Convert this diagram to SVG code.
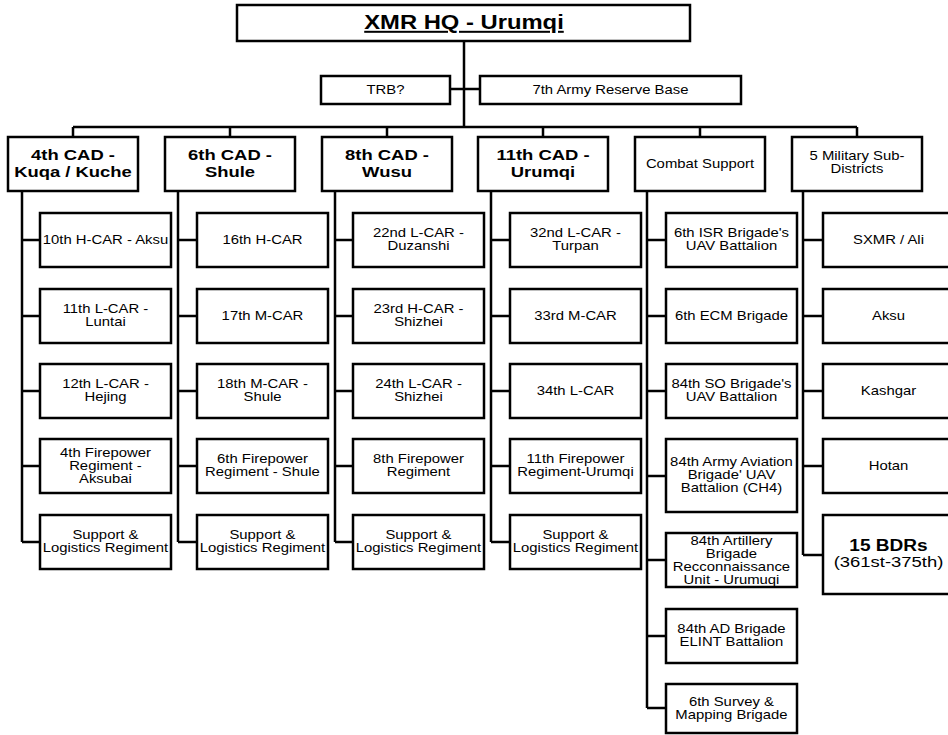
<svg xmlns="http://www.w3.org/2000/svg" width="948" height="735" viewBox="0 0 948 735">
<style>
.bx{fill:#fff;stroke:#000;stroke-width:2.5}
.ln{fill:none;stroke:#000;stroke-width:2.5}
text{font-family:"Liberation Sans",Arial,Helvetica,sans-serif;fill:#000;text-anchor:middle;transform-box:fill-box;transform-origin:center;transform:scaleX(1.19)}
.c{font-size:12.5px}
.h{font-size:15.5px;font-weight:bold}
.top{font-size:20px;font-weight:bold;text-decoration:underline}
.s{font-size:12.5px}
.bd{font-size:16px;font-weight:bold}
.bd2{font-size:15.5px}
</style>
<rect width="948" height="735" fill="#fff"/>
<g id="connectors">
<path class="ln" d="M464,41V127M450,89H480M73,127H857M73,127V137M230,127V137M387,127V137M543,127V137M700,127V137M857,127V137"/>
<path class="ln" d="M22,191V542M22,240H40M22,316H40M22,391H40M22,466H40M22,542H40"/>
<path class="ln" d="M178,191V542M178,240H197M178,316H197M178,391H197M178,466H197M178,542H197"/>
<path class="ln" d="M335,191V542M335,240H353M335,316H353M335,391H353M335,466H353M335,542H353"/>
<path class="ln" d="M491,191V542M491,240H510M491,316H510M491,391H510M491,466H510M491,542H510"/>
<path class="ln" d="M647,191V708M647,240H666M647,316H666M647,391H666M647,476H666M647,560H666M647,636H666M647,708H666"/>
<path class="ln" d="M803,191V555M803,240H823M803,316H823M803,391H823M803,466H823M803,555H823"/>
</g>
<g id="hq"><rect class="bx" x="237" y="5" width="453" height="36"/><text class="top" x="464" y="29">XMR HQ - Urumqi</text></g>
<g id="trb"><rect class="bx" x="321" y="76" width="129" height="28"/><text class="s" x="385.5" y="94.5">TRB?</text></g>
<g id="reserve"><rect class="bx" x="480" y="76" width="261" height="28"/><text class="s" x="610.5" y="94.5">7th Army Reserve Base</text></g>

<g id="cad4"><rect class="bx" x="8" y="137" width="130" height="54"/><text class="h" x="73" y="160.5"><tspan x="73">4th CAD -</tspan><tspan x="73" dy="16.5">Kuqa / Kuche</tspan></text></g>
<g id="cad6"><rect class="bx" x="165" y="137" width="130" height="54"/><text class="h" x="230" y="160.5"><tspan x="230">6th CAD -</tspan><tspan x="230" dy="16.5">Shule</tspan></text></g>
<g id="cad8"><rect class="bx" x="322" y="137" width="130" height="54"/><text class="h" x="387" y="160.5"><tspan x="387">8th CAD -</tspan><tspan x="387" dy="16.5">Wusu</tspan></text></g>
<g id="cad11"><rect class="bx" x="478" y="137" width="130" height="54"/><text class="h" x="543" y="160.5"><tspan x="543">11th CAD -</tspan><tspan x="543" dy="16.5">Urumqi</tspan></text></g>
<g id="combat"><rect class="bx" x="635" y="137" width="130" height="54"/><text class="c" x="700" y="168">Combat Support</text></g>
<g id="msd"><rect class="bx" x="792" y="137" width="130" height="54"/><text class="c" x="857" y="160.5"><tspan x="857">5 Military Sub-</tspan><tspan x="857" dy="13">Districts</tspan></text></g>

<g id="c1r1"><rect class="bx" x="40" y="213" width="131" height="54"/><text class="c" x="105.5" y="244.5">10th H-CAR - Aksu</text></g>
<g id="c1r2"><rect class="bx" x="40" y="289" width="131" height="54"/><text class="c" x="105.5" y="313.5"><tspan x="105.5">11th L-CAR -</tspan><tspan x="105.5" dy="13">Luntai</tspan></text></g>
<g id="c1r3"><rect class="bx" x="40" y="364" width="131" height="54"/><text class="c" x="105.5" y="388.5"><tspan x="105.5">12th L-CAR -</tspan><tspan x="105.5" dy="13">Hejing</tspan></text></g>
<g id="c1r4"><rect class="bx" x="40" y="439" width="131" height="54"/><text class="c" x="105.5" y="457.5"><tspan x="105.5">4th Firepower</tspan><tspan x="105.5" dy="13">Regiment -</tspan><tspan x="105.5" dy="13">Aksubai</tspan></text></g>
<g id="c1r5"><rect class="bx" x="40" y="515" width="131" height="54"/><text class="c" x="105.5" y="539.5"><tspan x="105.5">Support &amp;</tspan><tspan x="105.5" dy="13">Logistics Regiment</tspan></text></g>

<g id="c2r1"><rect class="bx" x="197" y="213" width="131" height="54"/><text class="c" x="262.5" y="244.5">16th H-CAR</text></g>
<g id="c2r2"><rect class="bx" x="197" y="289" width="131" height="54"/><text class="c" x="262.5" y="320.5">17th M-CAR</text></g>
<g id="c2r3"><rect class="bx" x="197" y="364" width="131" height="54"/><text class="c" x="262.5" y="388.5"><tspan x="262.5">18th M-CAR -</tspan><tspan x="262.5" dy="13">Shule</tspan></text></g>
<g id="c2r4"><rect class="bx" x="197" y="439" width="131" height="54"/><text class="c" x="262.5" y="463.5"><tspan x="262.5">6th Firepower</tspan><tspan x="262.5" dy="13">Regiment - Shule</tspan></text></g>
<g id="c2r5"><rect class="bx" x="197" y="515" width="131" height="54"/><text class="c" x="262.5" y="539.5"><tspan x="262.5">Support &amp;</tspan><tspan x="262.5" dy="13">Logistics Regiment</tspan></text></g>

<g id="c3r1"><rect class="bx" x="353" y="213" width="131" height="54"/><text class="c" x="418.5" y="237.5"><tspan x="418.5">22nd L-CAR -</tspan><tspan x="418.5" dy="13">Duzanshi</tspan></text></g>
<g id="c3r2"><rect class="bx" x="353" y="289" width="131" height="54"/><text class="c" x="418.5" y="313.5"><tspan x="418.5">23rd H-CAR -</tspan><tspan x="418.5" dy="13">Shizhei</tspan></text></g>
<g id="c3r3"><rect class="bx" x="353" y="364" width="131" height="54"/><text class="c" x="418.5" y="388.5"><tspan x="418.5">24th L-CAR -</tspan><tspan x="418.5" dy="13">Shizhei</tspan></text></g>
<g id="c3r4"><rect class="bx" x="353" y="439" width="131" height="54"/><text class="c" x="418.5" y="463.5"><tspan x="418.5">8th Firepower</tspan><tspan x="418.5" dy="13">Regiment</tspan></text></g>
<g id="c3r5"><rect class="bx" x="353" y="515" width="131" height="54"/><text class="c" x="418.5" y="539.5"><tspan x="418.5">Support &amp;</tspan><tspan x="418.5" dy="13">Logistics Regiment</tspan></text></g>

<g id="c4r1"><rect class="bx" x="510" y="213" width="131" height="54"/><text class="c" x="575.5" y="237.5"><tspan x="575.5">32nd L-CAR -</tspan><tspan x="575.5" dy="13">Turpan</tspan></text></g>
<g id="c4r2"><rect class="bx" x="510" y="289" width="131" height="54"/><text class="c" x="575.5" y="320.5">33rd M-CAR</text></g>
<g id="c4r3"><rect class="bx" x="510" y="364" width="131" height="54"/><text class="c" x="575.5" y="395.5">34th L-CAR</text></g>
<g id="c4r4"><rect class="bx" x="510" y="439" width="131" height="54"/><text class="c" x="575.5" y="463.5"><tspan x="575.5">11th Firepower</tspan><tspan x="575.5" dy="13">Regiment-Urumqi</tspan></text></g>
<g id="c4r5"><rect class="bx" x="510" y="515" width="131" height="54"/><text class="c" x="575.5" y="539.5"><tspan x="575.5">Support &amp;</tspan><tspan x="575.5" dy="13">Logistics Regiment</tspan></text></g>

<g id="c5r1"><rect class="bx" x="666" y="213" width="131" height="54"/><text class="c" x="731.5" y="237.5"><tspan x="731.5">6th ISR Brigade's</tspan><tspan x="731.5" dy="13">UAV Battalion</tspan></text></g>
<g id="c5r2"><rect class="bx" x="666" y="289" width="131" height="54"/><text class="c" x="731.5" y="320.5">6th ECM Brigade</text></g>
<g id="c5r3"><rect class="bx" x="666" y="364" width="131" height="54"/><text class="c" x="731.5" y="388.5"><tspan x="731.5">84th SO Brigade's</tspan><tspan x="731.5" dy="13">UAV Battalion</tspan></text></g>
<g id="c5r4"><rect class="bx" x="666" y="439" width="131" height="73"/><text class="c" x="731.5" y="466.5"><tspan x="731.5">84th Army Aviation</tspan><tspan x="731.5" dy="13">Brigade' UAV</tspan><tspan x="731.5" dy="13">Battalion (CH4)</tspan></text></g>
<g id="c5r5"><rect class="bx" x="666" y="533" width="131" height="54"/><text class="c" x="731.5" y="545"><tspan x="731.5">84th Artillery</tspan><tspan x="731.5" dy="13">Brigade</tspan><tspan x="731.5" dy="13">Recconnaissance</tspan><tspan x="731.5" dy="13">Unit - Urumuqi</tspan></text></g>
<g id="c5r6"><rect class="bx" x="666" y="609" width="131" height="54"/><text class="c" x="731.5" y="633.5"><tspan x="731.5">84th AD Brigade</tspan><tspan x="731.5" dy="13">ELINT Battalion</tspan></text></g>
<g id="c5r7"><rect class="bx" x="666" y="684" width="131" height="49"/><text class="c" x="731.5" y="706"><tspan x="731.5">6th Survey &amp;</tspan><tspan x="731.5" dy="13">Mapping Brigade</tspan></text></g>

<g id="c6r1"><rect class="bx" x="823" y="213" width="131" height="54"/><text class="c" x="888.5" y="244.5">SXMR / Ali</text></g>
<g id="c6r2"><rect class="bx" x="823" y="289" width="131" height="54"/><text class="c" x="888.5" y="320.5">Aksu</text></g>
<g id="c6r3"><rect class="bx" x="823" y="364" width="131" height="54"/><text class="c" x="888.5" y="395.5">Kashgar</text></g>
<g id="c6r4"><rect class="bx" x="823" y="439" width="131" height="54"/><text class="c" x="888.5" y="470.5">Hotan</text></g>
<g id="c6r5"><rect class="bx" x="823" y="515" width="131" height="79"/><text x="888.5" y="551"><tspan class="bd" x="888.5">15 BDRs</tspan><tspan class="bd2" x="888.5" dy="16.5">(361st-375th)</tspan></text></g>
</svg>
